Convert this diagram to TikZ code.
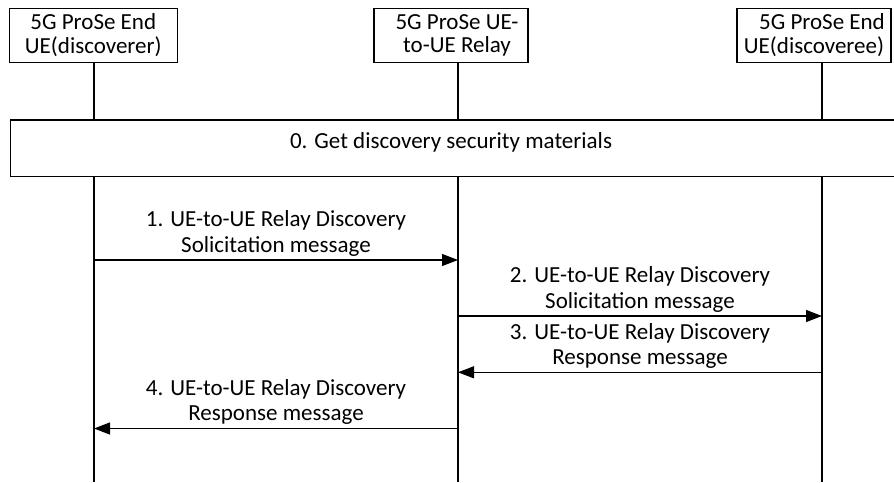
\documentclass[tikz,border=0pt]{standalone}
\usepackage{fontspec}
\setmainfont{Carlito}
\usetikzlibrary{arrows.meta}
\begin{document}
\begin{tikzpicture}[x=1pt,y=-1pt,
  every node/.style={font=\fontsize{23}{23.5}\selectfont},
  box/.style={draw,line width=1.2pt,minimum height=54pt,inner sep=0pt,align=center},
  life/.style={line width=1.2pt},
  msg/.style={line width=1.2pt,-{Triangle[length=16pt,width=12pt]}},
  lbl/.style={align=center,inner sep=0pt,anchor=south,text depth=0pt,font=\fontsize{23}{25.5}\selectfont}]
\useasboundingbox (0,0) rectangle (894,482);
% participant boxes
\node[box,minimum width=168pt] (A) at (93.3,35.2) {5G ProSe End\\UE(discoverer)};
\node[box,minimum width=154pt] (B) at (451,35.2) {\hspace*{12pt}5G ProSe UE-\\\hspace*{12pt}to-UE Relay};
\node[box,minimum width=154pt] (C) at (814,35.2) {\hspace*{16pt}5G ProSe End\\UE(discoveree)};
% big box
\node[draw,line width=1.2pt,minimum width=900pt,minimum height=56.5pt,inner sep=0pt,anchor=north west] (G) at (9.5,119.3) {};
\node[anchor=base,inner sep=0pt] (Gt) at (451,148) {0. Get discovery security materials};
% lifeline coordinates
\coordinate (A1) at (94,62.3); \coordinate (A2) at (94,119.3);
\coordinate (B1) at (458,62.3); \coordinate (B2) at (458,119.3);
\coordinate (C1) at (822,62.3); \coordinate (C2) at (822,119.3);
\coordinate (A3) at (94,175.8); \coordinate (A4) at (94,482);
\coordinate (B3) at (458,175.8); \coordinate (B4) at (458,482);
\coordinate (C3) at (822,175.8); \coordinate (C4) at (822,482);
\draw[life] (A1) -- (A2) (B1) -- (B2) (C1) -- (C2);
\draw[life] (A3) -- (A4) (B3) -- (B4) (C3) -- (C4);
% message endpoints
\coordinate (m1a) at (94,260); \coordinate (m1b) at (458,260);
\coordinate (m2a) at (458,316); \coordinate (m2b) at (822,316);
\coordinate (m3a) at (822,372.3); \coordinate (m3b) at (458,372.3);
\coordinate (m4a) at (458,428.5); \coordinate (m4b) at (94,428.5);
\draw[msg] (m1a) -- (m1b);
\draw[msg] (m2a) -- (m2b);
\draw[msg] (m3a) -- (m3b);
\draw[msg] (m4a) -- (m4b);
\node[lbl] (l1) at (276,252.5) {1. UE-to-UE Relay Discovery\\Solicitation message};
\node[lbl] (l2) at (640,308.5) {2. UE-to-UE Relay Discovery\\Solicitation message};
\node[lbl] (l3) at (640,364.8) {3. UE-to-UE Relay Discovery\\Response message};
\node[lbl] (l4) at (276,421) {4. UE-to-UE Relay Discovery\\Response message};
\end{tikzpicture}
\end{document}
